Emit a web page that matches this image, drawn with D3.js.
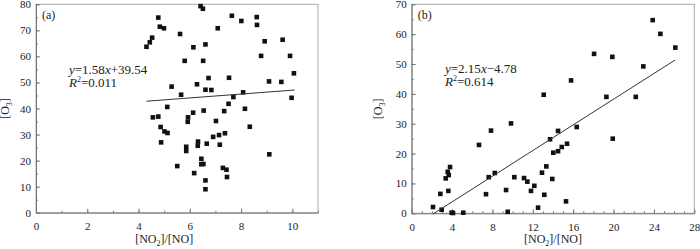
<!DOCTYPE html>
<html>
<head>
<meta charset="utf-8">
<script src="https://cdn.jsdelivr.net/npm/d3@7"></script>
<style>
  html, body { margin: 0; padding: 0; background: #fff; }
  svg { display: block; font-family: "Liberation Serif", "DejaVu Serif", serif; }
</style>
</head>
<body>
<script>
// ---------- Data ----------
const leftX = [4.31,4.44,4.53,4.77,4.83,4.99,5.62,6.42,6.51,6.14,6.61,5.80,6.52,7.09,7.64,8.01,8.61,8.62,8.92,8.78,9.62,9.91,10.06,9.09,9.57,9.97,7.53,6.73,6.28,6.61,6.84,5.29,5.66,8.08,7.70,7.51,5.12,4.56,4.77,5.93,5.92,6.13,6.54,7.34,8.15,7.02,8.34,4.86,5.01,5.13,4.88,6.91,7.14,7.37,6.32,6.31,6.66,7.17,5.86,5.86,9.10,6.45,6.45,6.53,5.51,7.29,7.43,7.45,6.17,6.61,6.61];
const leftY = [63.7,65.4,67.2,74.9,71.4,70.8,68.6,79.3,78.3,63.5,64.6,58.3,58.3,70.8,75.6,73.6,75.1,72.1,65.8,60.2,66.4,60.2,53.5,50.4,50.2,44.1,51.8,51.7,49.3,47.2,47.1,48.4,45.3,46.2,44.4,41.8,40.6,36.6,36.9,36.6,34.9,38.4,39.2,39.0,39.9,35.2,33.0,32.9,31.2,30.6,27.0,29.1,29.8,30.5,27.3,25.7,26.5,26.1,25.3,23.7,22.4,20.7,18.6,18.7,17.9,17.2,16.5,13.7,15.2,12.4,9.0];

const rightX = [2.11,2.97,2.84,3.63,3.37,3.57,3.67,3.80,3.96,4.09,5.11,6.67,7.36,7.63,7.86,8.23,9.35,9.51,9.84,10.17,11.13,11.46,11.82,12.15,12.52,12.91,13.14,13.34,13.93,13.71,14.03,14.50,14.50,14.87,15.39,15.29,16.35,19.92,13.08,15.79,18.07,19.88,19.29,22.2,22.95,23.88,24.64,26.12];
const rightY = [2.1,1.2,6.5,7.5,11.7,13.9,12.8,15.5,0.2,0.1,0.2,22.9,6.4,12.1,27.7,13.5,7.8,0.5,30.1,12.1,11.8,10.6,7.5,9.2,1.9,13.6,6.2,15.7,11.5,24.8,20.3,20.8,27.6,22.2,23.3,4.0,28.9,25.0,39.7,44.5,53.4,52.4,39.0,39.0,49.2,64.7,60.1,55.5];

// fitted lines (endpoints as drawn)
const leftFitX = [4.31, 10.09];
const leftFitY = [42.8, 47.1];
const rightSlope = 2.15, rightIntercept = -4.78;
const rightFitX = [2.1, 26.1];

// ticks
const leftXTicks = [0,2,4,6,8,10];
const leftXMinor = d3.range(0, 12, 1);
const leftYTicks = [0,10,20,30,40,50,60,70,80];
const leftYMinor = d3.range(0, 81, 5);
const rightXTicks = [0,4,8,12,16,20,24,28];
const rightXMinor = d3.range(0, 29, 1);
const rightYTicks = [0,10,20,30,40,50,60,70];
const rightYMinor = d3.range(0, 71, 5);

// labels
const panelLabels = ["(a)", "(b)"];
const eqLeft = ["1.58", "+39.54", "0.011"];
const eqRight = ["2.15", "\u22124.78", "0.614"];

// ---------- Drawing ----------
const W = 700, H = 249;
const svg = d3.select("body").append("svg").attr("width", W).attr("height", H);

function drawPanel(cfg) {
  const g = svg.append("g");
  const x = d3.scaleLinear().domain(cfg.xDomain).range(cfg.xRange);
  const y = d3.scaleLinear().domain(cfg.yDomain).range(cfg.yRange);

  // frame
  g.append("rect")
    .attr("x", cfg.xRange[0]).attr("y", cfg.yRange[1])
    .attr("width", cfg.xRange[1] - cfg.xRange[0])
    .attr("height", cfg.yRange[0] - cfg.yRange[1])
    .attr("fill", "none").attr("stroke", "#a8a8a8").attr("stroke-width", 1);

  // minor ticks x
  g.append("g").attr("transform", `translate(0,${cfg.yRange[0]})`)
    .call(d3.axisBottom(x).tickValues(cfg.xMinor).tickSize(-2).tickSizeOuter(0).tickFormat(""))
    .call(s => { s.select(".domain").remove(); s.selectAll("line").attr("stroke", "#777"); });
  // major x
  const gx = g.append("g").attr("transform", `translate(0,${cfg.yRange[0]})`)
    .call(d3.axisBottom(x).tickValues(cfg.xTicks).tickSize(-4).tickSizeOuter(0).tickPadding(10).tickFormat(d3.format("d")));
  gx.select(".domain").attr("stroke", "#777");
  gx.selectAll("line").attr("stroke", "#777");
  gx.selectAll("text").attr("font-size", 11).attr("fill", "#222").attr("font-family", "Liberation Serif, serif");

  // minor y
  g.append("g").attr("transform", `translate(${cfg.xRange[0]},0)`)
    .call(d3.axisLeft(y).tickValues(cfg.yMinor).tickSize(-2).tickSizeOuter(0).tickFormat(""))
    .call(s => { s.select(".domain").remove(); s.selectAll("line").attr("stroke", "#777"); });
  const gy = g.append("g").attr("transform", `translate(${cfg.xRange[0]},0)`)
    .call(d3.axisLeft(y).tickValues(cfg.yTicks).tickSize(-4).tickSizeOuter(0).tickPadding(5).tickFormat(d3.format("d")));
  gy.select(".domain").attr("stroke", "#777");
  gy.selectAll("line").attr("stroke", "#777");
  gy.selectAll("text").attr("font-size", 11).attr("fill", "#222").attr("font-family", "Liberation Serif, serif");

  // points
  const sz = 4.6;
  g.append("g").selectAll("rect").data(cfg.px.map((v, i) => [v, cfg.py[i]]))
    .join("rect")
    .attr("x", d => x(d[0]) - sz / 2).attr("y", d => y(d[1]) - sz / 2)
    .attr("width", sz).attr("height", sz).attr("fill", "#111");

  // fit line
  g.append("line")
    .attr("x1", x(cfg.fitX[0])).attr("y1", y(cfg.fitY[0]))
    .attr("x2", x(cfg.fitX[1])).attr("y2", y(cfg.fitY[1]))
    .attr("stroke", "#333").attr("stroke-width", 1);

  // panel label
  g.append("text").attr("x", cfg.xRange[0] + 6).attr("y", 19)
    .attr("font-size", 12).attr("fill", "#222").text(cfg.label);

  // equation
  const eq = g.append("text").attr("x", cfg.eqX).attr("y", cfg.eqY)
    .attr("font-size", 13).attr("fill", "#222");
  eq.append("tspan").attr("font-style", "italic").text("y");
  eq.append("tspan").text("=" + cfg.eq[0]);
  eq.append("tspan").attr("font-style", "italic").text("x");
  eq.append("tspan").text(cfg.eq[1]);
  const r2 = g.append("text").attr("x", cfg.eqX).attr("y", cfg.eqY + 13)
    .attr("font-size", 13).attr("fill", "#222");
  r2.append("tspan").attr("font-style", "italic").text("R");
  r2.append("tspan").attr("font-size", 8).attr("dy", -5).text("2");
  r2.append("tspan").attr("dy", 5).text("=" + cfg.eq[2]);

  // x title
  const xt = g.append("text").attr("x", x(cfg.xTitleAt)).attr("y", 243)
    .attr("text-anchor", "middle").attr("font-size", 12).attr("fill", "#222");
  xt.append("tspan").text("[NO");
  xt.append("tspan").attr("font-size", 8).attr("dy", 3).text("2");
  xt.append("tspan").attr("dy", -3).text("]/[NO]");

  // y title
  const yc = (cfg.yRange[0] + cfg.yRange[1]) / 2;
  const yt = g.append("text")
    .attr("transform", `translate(${cfg.yTitleX},${yc}) rotate(-90)`)
    .attr("text-anchor", "middle").attr("font-size", 12).attr("fill", "#222");
  yt.append("tspan").text("[O");
  yt.append("tspan").attr("font-size", 8).attr("dy", 3).text("3");
  yt.append("tspan").attr("dy", -3).text("]");
}

drawPanel({
  xDomain: [0, 11], xRange: [36, 318],
  yDomain: [0, 80], yRange: [212.7, 4.3],
  xTicks: leftXTicks, xMinor: leftXMinor,
  yTicks: leftYTicks, yMinor: leftYMinor,
  px: leftX, py: leftY,
  fitX: leftFitX, fitY: leftFitY,
  label: panelLabels[0], eq: eqLeft, eqX: 69, eqY: 74,
  xTitleAt: 5, yTitleX: 9
});

drawPanel({
  xDomain: [0, 28], xRange: [411.7, 694.3],
  yDomain: [0, 70], yRange: [213.3, 4.3],
  xTicks: rightXTicks, xMinor: rightXMinor,
  yTicks: rightYTicks, yMinor: rightYMinor,
  px: rightX, py: rightY,
  fitX: rightFitX, fitY: rightFitX.map(v => rightSlope * v + rightIntercept),
  label: panelLabels[1], eq: eqRight, eqX: 445, eqY: 73,
  xTitleAt: 14, yTitleX: 382
});
</script>
</body>
</html>
